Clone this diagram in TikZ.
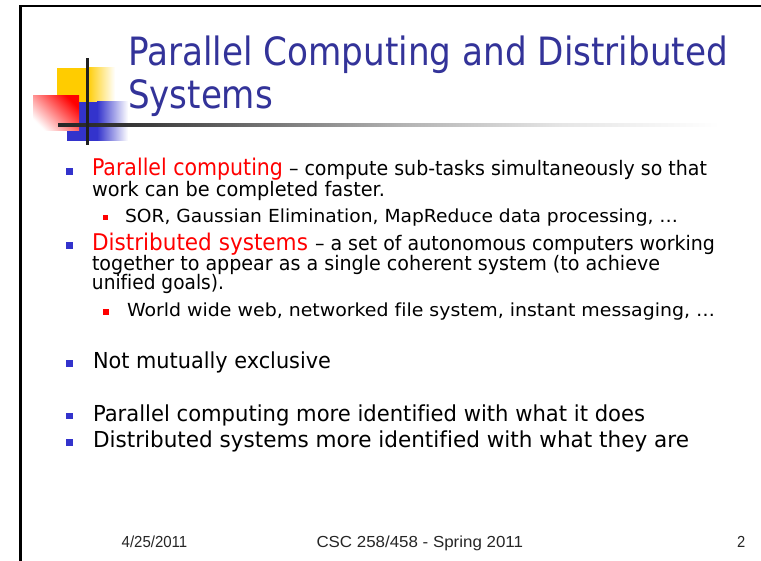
\documentclass[tikz,border=0pt]{standalone}
\usepackage{fontspec}
\setmainfont{DejaVu Sans}[Ligatures=NoCommon]
\newfontfamily\footfont{Liberation Sans}
\usepackage{graphicx}
\definecolor{titleblue}{RGB}{51,51,153}
\definecolor{bulblue}{RGB}{51,51,204}
\definecolor{sqyellow}{RGB}{255,204,0}
\definecolor{sqblue}{RGB}{51,51,204}
\pgfdeclarehorizontalshading{hlfade}{100bp}{color(0bp)=(black!85); color(25bp)=(black!85); color(30bp)=(black!80); color(51bp)=(black!30); color(63bp)=(black!10); color(75bp)=(white); color(100bp)=(white)}
\newcommand{\fitw}[2]{\resizebox{#1pt}{\height}{#2}}
\newcommand{\fsz}[1]{\fontsize{#1}{#1}\selectfont}
\begin{document}
\begin{tikzpicture}[x=1pt,y=-1pt,
  txt/.style={anchor=base west, inner sep=0pt, outer sep=0pt},
  bul/.style={fill=bulblue, draw=none, inner sep=0pt, minimum width=7pt, minimum height=6.5pt},
  sbul/.style={fill=red, draw=none, inner sep=0pt, minimum size=5.5pt},
  foot/.style={anchor=base west, inner sep=0pt, outer sep=0pt, text=black!85, font=\footfont\fsz{16}}]
\useasboundingbox (0,0) rectangle (761,561);
\fill[white] (0,0) rectangle (761,561);
% frame
\draw[line width=2.7pt, line cap=rect] (20.7,565) -- (20.7,6) -- (765,6);
% decoration
\fill[sqyellow] (57,68) rectangle (87,102);
\shade[left color=sqyellow, right color=white] (87,68) rectangle (115,102);
\fill[sqblue] (67,102) rectangle (97,141);
\shade[left color=sqblue, right color=white] (97,102) rectangle (128,141);
\shade[top color=red, bottom color=white, shading angle=-45] (33,96) rectangle (79,131);
\shade[shading=hlfade] (58,124) rectangle (720,127);
\fill[black!88] (86,58) rectangle (88.5,145);
% title
\node[txt, text=titleblue] (t1) at (128,66) {\fsz{39}\fitw{600}{Parallel Computing and Distributed}};
\node[txt, text=titleblue] (t2) at (128,109) {\fsz{39}\fitw{145}{Systems}};
% bullets
\node[bul] (b1) at (69.5,171.5) {};
\node[txt, text=red] (l1a) at (92,176) {\fsz{23}\fitw{191}{Parallel computing}};
\node[txt] (l1b) at (289,176) {\fsz{20}\fitw{418}{– compute sub-tasks simultaneously so that}};
\node[txt] (l2) at (92,197) {\fsz{20}\fitw{293}{work can be completed faster.}};
\node[sbul] (b2) at (105.5,217.5) {};
\node[txt] (l3) at (125,222.5) {\fsz{18}\fitw{553}{SOR, Gaussian Elimination, MapReduce data processing, …}};
\node[bul] (b3) at (69.5,245.5) {};
\node[txt, text=red] (l4a) at (92,250.5) {\fsz{23}\fitw{216}{Distributed systems}};
\node[txt] (l4b) at (315,250.5) {\fsz{20}\fitw{400}{– a set of autonomous computers working}};
\node[txt] (l5) at (92,271) {\fsz{20}\fitw{568}{together to appear as a single coherent system (to achieve}};
\node[txt] (l6) at (92,290) {\fsz{20}\fitw{132}{unified goals).}};
\node[sbul] (b4) at (106,312) {};
\node[txt] (l7) at (127,317) {\fsz{18}\fitw{588}{World wide web, networked file system, instant messaging, …}};
\node[bul] (b5) at (69.5,363.5) {};
\node[txt] (l8) at (93,369) {\fsz{22}\fitw{238}{Not mutually exclusive}};
\node[bul] (b6) at (69.5,416) {};
\node[txt] (l9) at (93,421) {\fsz{22}\fitw{552}{Parallel computing more identified with what it does}};
\node[bul] (b7) at (69.5,442.5) {};
\node[txt] (l10) at (93,448) {\fsz{22}\fitw{596}{Distributed systems more identified with what they are}};
% footer
\node[foot] (f1) at (121.7,547.7) {\fitw{65.6}{4/25/2011}};
\node[foot] (f2) at (316.5,547.7) {\fitw{206.5}{CSC 258/458 - Spring 2011}};
\node[foot] (f3) at (737,547.7) {\scalebox{0.92}[1]{2}};
\end{tikzpicture}
\end{document}
